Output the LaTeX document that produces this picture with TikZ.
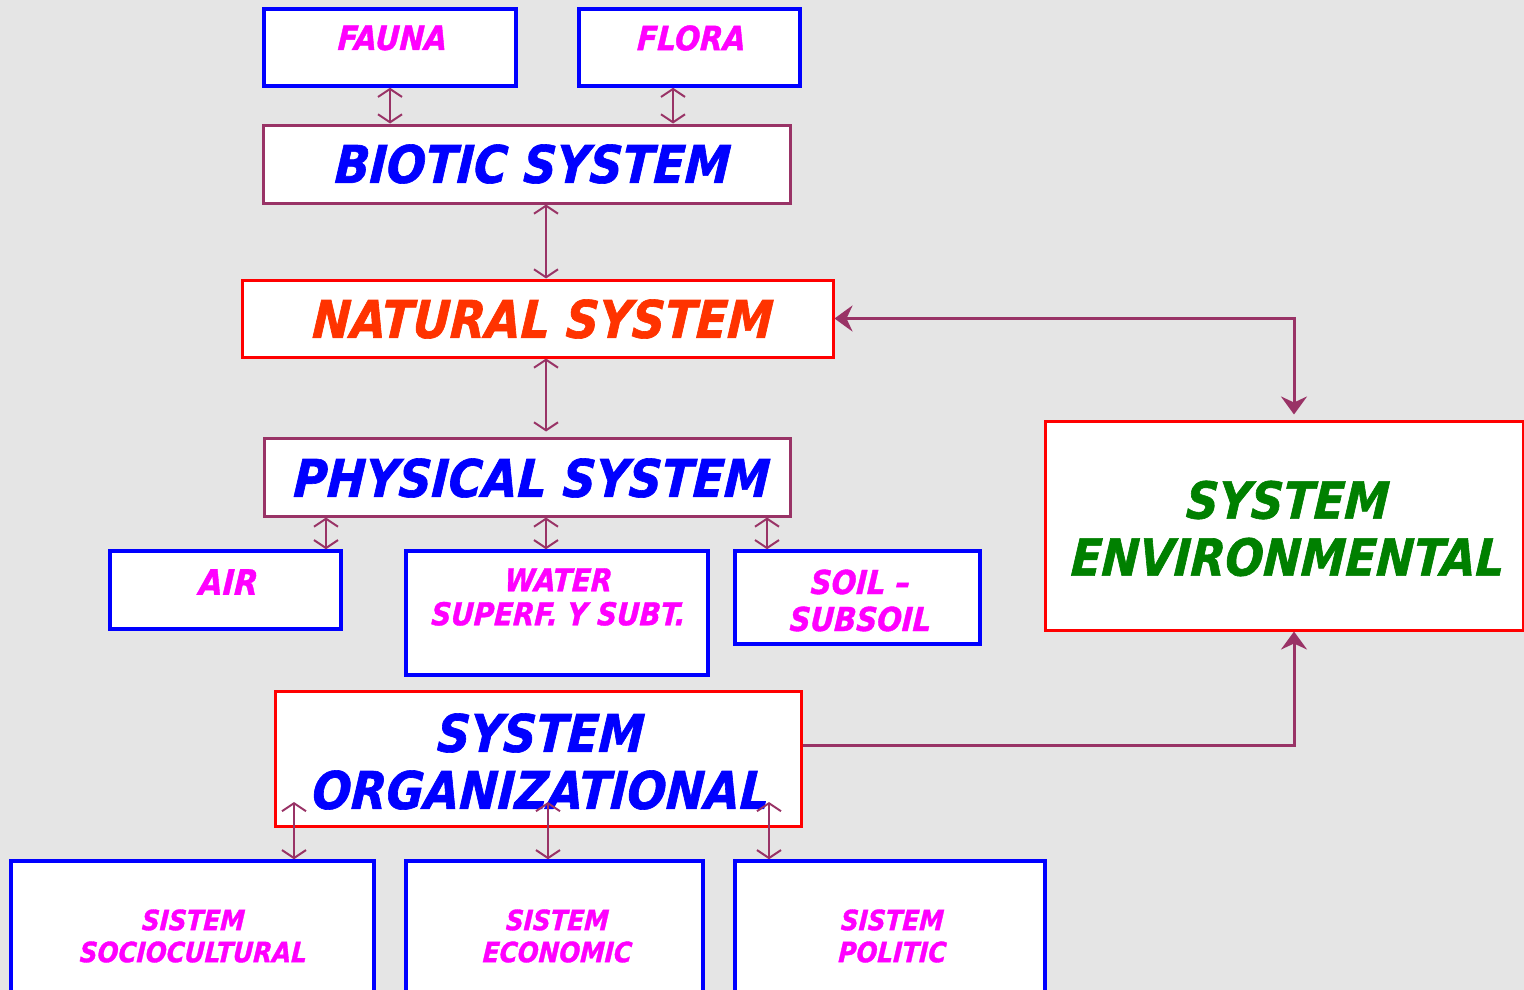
\documentclass[tikz,border=0pt]{standalone}
\usepackage{fontspec}
\newfontfamily\tah[FakeStretch=0.88, BoldItalicFeatures={FakeBold=1.2, FakeSlant=0.06}]{DejaVu Sans}
\usetikzlibrary{arrows.meta}
\definecolor{bg}{HTML}{E5E5E5}
\definecolor{plum}{HTML}{993366}
\definecolor{mag}{HTML}{FF00FF}
\definecolor{orr}{HTML}{FF3300}
\definecolor{grn}{HTML}{008000}
\definecolor{blu}{HTML}{0000FF}
\definecolor{rd}{HTML}{FF0000}
\begin{document}
\begin{tikzpicture}[x=1pt,y=-1pt,
  box/.style={draw, fill=white, line width=3pt, inner sep=0pt},
  bluebox/.style={box, draw=blu, line width=3.5pt},
  plumbox/.style={box, draw=plum},
  redbox/.style={box, draw=rd},
  txt/.style={inner sep=0pt, align=center},
  small/.style={txt, text=mag, font=\tah\bfseries\itshape\fontsize{33.5}{36}\selectfont},
  big/.style={txt, font=\tah\bfseries\itshape\fontsize{52}{57}\selectfont},
  dbl/.style={draw=plum, line width=2pt,
    {Straight Barb[length=8pt,width=24pt,line width=2pt]}-{Straight Barb[length=8pt,width=24pt,line width=2pt]}},
  link/.style={draw=plum, line width=3pt}
]
\useasboundingbox (0,0) rectangle (1524,990);
\fill[bg] (0,0) rectangle (1524,990);
\clip (0,0) rectangle (1524,990);

% boxes
\node[bluebox, minimum width=252, minimum height=77] (fauna) at (390,47.5) {};
\node[bluebox, minimum width=221, minimum height=77] (flora) at (689.5,47.5) {};
\node[plumbox, minimum width=527, minimum height=78] (biotic) at (526.5,164) {};
\node[redbox, minimum width=591, minimum height=77] (natural) at (537.5,318.5) {};
\node[plumbox, minimum width=526, minimum height=78] (physical) at (527,477) {};
\node[bluebox, minimum width=231, minimum height=78] (air) at (225.5,590) {};
\node[bluebox, minimum width=302, minimum height=124] (water) at (557,613) {};
\node[bluebox, minimum width=245, minimum height=93] (soil) at (857.5,597.5) {};
\node[redbox, minimum width=478, minimum height=209] (env) at (1284,525.5) {};
\node[redbox, minimum width=526, minimum height=135] (org) at (538,758.5) {};
\node[bluebox, minimum width=363, minimum height=149] (socio) at (192.5,935.5) {};
\node[bluebox, minimum width=297, minimum height=149] (econ) at (554.5,935.5) {};
\node[bluebox, minimum width=310, minimum height=149] (polit) at (890,935.5) {};

% texts
\node[small] (faunat) at (392,38) {FAUNA};
\node[small] (florat) at (691,38) {FLORA};
\node[big, text=blu] (biotict) at (532,164) {BIOTIC SYSTEM};
\node[big, text=orr] (naturalt) at (542,319) {NATURAL SYSTEM};
\node[big, text=blu] (physicalt) at (531,478) {PHYSICAL SYSTEM};
\node[small, font=\tah\bfseries\itshape\fontsize{35}{36}\selectfont] (airt) at (228,582) {AIR};
\node[small, font=\tah\bfseries\itshape\fontsize{31.5}{34}\selectfont] (watert) at (558,597) {WATER\\SUPERF. Y SUBT.};
\node[small, font=\tah\bfseries\itshape\fontsize{33}{37}\selectfont] (soilt) at (860,600.5) {SOIL –\\SUBSOIL};
\node[big, text=grn, font=\tah\bfseries\itshape\fontsize{51}{57}\selectfont] (envt) at (1287,528.5) {SYSTEM\\ENVIRONMENTAL};
\node[big, text=blu] (orgt) at (540,761.5) {SYSTEM\\ORGANIZATIONAL};
\node[small, font=\tah\bfseries\itshape\fontsize{28}{32}\selectfont] (sociot) at (193,936) {SISTEM\\SOCIOCULTURAL};
\node[small, font=\tah\bfseries\itshape\fontsize{28}{32}\selectfont] (econt) at (557,936) {SISTEM\\ECONOMIC};
\node[small, font=\tah\bfseries\itshape\fontsize{28}{32}\selectfont] (politt) at (892,936) {SISTEM\\POLITIC};

% helper coordinates
\coordinate (xa) at (390,0);
\coordinate (xf) at (673,0);
\coordinate (xb) at (546,0);
\coordinate (xp1) at (326,0);
\coordinate (xp2) at (546,0);
\coordinate (xp3) at (767,0);
\coordinate (xe) at (1294,0);
\coordinate (ye) at (0,745);
\coordinate (yo) at (0,802);
\coordinate (xo1) at (294,0);
\coordinate (xo2) at (548,0);
\coordinate (xo3) at (769,0);

% connectors
\draw[dbl] (fauna.south -| xa) -- (biotic.north -| xa);
\draw[dbl] (flora.south -| xf) -- (biotic.north -| xf);
\draw[dbl] (biotic.south -| xb) -- (natural.north -| xb);
\draw[dbl, shorten >=5pt] (natural.south -| xb) -- (physical.north -| xb);
\draw[dbl] (physical.south -| xp1) -- (air.north -| xp1);
\draw[dbl] (physical.south -| xp2) -- (water.north -| xp2);
\draw[dbl] (physical.south -| xp3) -- (soil.north -| xp3);
\draw[link, {Stealth[length=18pt,width=26pt,inset=6pt]}-{Stealth[length=18pt,width=26pt,inset=6pt]}, shorten >=5pt]
  (natural.east) -| (env.north -| xe);
\draw[link, -{Stealth[length=18pt,width=26pt,inset=6pt]}]
  (org.east |- ye) -| (env.south -| xe);
\draw[dbl] (yo -| xo1) -- (socio.north -| xo1);
\draw[dbl] (yo -| xo2) -- (econ.north -| xo2);
\draw[dbl] (yo -| xo3) -- (polit.north -| xo3);
\end{tikzpicture}
\end{document}
